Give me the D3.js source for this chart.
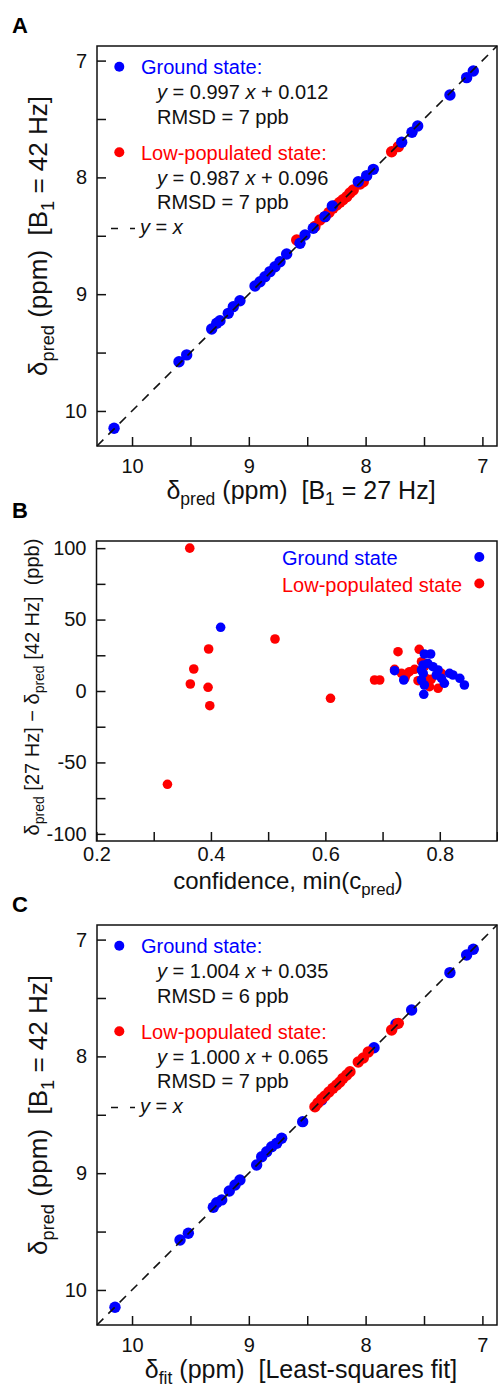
<!DOCTYPE html>
<html>
<head>
<meta charset="utf-8">
<title>delta pred comparison</title>
<style>
  body { margin: 0; background: #fff; }
  svg text { font-family: "Liberation Sans", Arial, Helvetica, sans-serif; white-space: pre; }
</style>
<script src="https://d3js.org/d3.v7.min.js"></script>
</head>
<body>
<script>
// panel A : delta_pred at B1 = 27 Hz (x) against B1 = 42 Hz (y), ppm
var gsA27 = [7.078, 7.135, 7.278, 7.554, 7.603, 7.691, 7.934, 7.991, 8.063, 8.285, 8.348, 8.448, 8.519, 8.562, 8.676,
             8.733, 8.776, 8.819, 8.862, 8.904, 8.947, 9.076, 9.133, 9.176, 9.247, 9.275, 9.318, 9.532, 9.598, 10.154];
var gsA42 = [7.089, 7.146, 7.295, 7.560, 7.614, 7.699, 7.931, 7.985, 8.037, 8.245, 8.336, 8.436, 8.493, 8.564, 8.656,
             8.722, 8.765, 8.807, 8.850, 8.893, 8.930, 9.056, 9.107, 9.164, 9.227, 9.249, 9.298, 9.520, 9.578, 10.148];
var lpA27 = [7.720, 7.777, 8.020, 8.048, 8.106, 8.134, 8.162, 8.194, 8.220, 8.248, 8.280, 8.314, 8.348, 8.391, 8.434, 8.590];
var lpA42 = [7.737, 7.780, 8.037, 8.057, 8.108, 8.134, 8.165, 8.191, 8.213, 8.236, 8.264, 8.300, 8.336, 8.365, 8.420, 8.536];
var fitA = [[0.997, 0.012], [0.987, 0.096]];
var rmsdA = [7, 7];

// panel B : confidence against difference (ppb)
var gsBconf = [0.417, 0.772, 0.773, 0.784, 0.721, 0.737, 0.771, 0.779, 0.788, 0.797, 0.768, 0.771, 0.794,
               0.803, 0.817, 0.823, 0.835, 0.843, 0.808, 0.768, 0.773];
var gsBdiff = [44.6, -2.3, 25.9, 25.9, 14.2, 7.7, 18.2, 19.4, 17.0, 14.7, 14.7, 12.4, 11.2,
               8.9, 12.4, 11.2, 8.9, 4.2, 5.4, 7.7, 4.2];
var lpBconf = [0.363, 0.512, 0.396, 0.370, 0.364, 0.395, 0.398, 0.609, 0.324, 0.727, 0.764, 0.686, 0.695, 0.721,
               0.733, 0.742, 0.747, 0.756, 0.768, 0.773, 0.762, 0.776, 0.785, 0.782, 0.797, 0.803, 0.739];
var lpBdiff = [100, 36.4, 29.4, 15.4, 4.9, 2.6, -10.3, -5.1, -65.3, 27.5, 29.2, 7.7, 7.7, 15.2,
               12.4, 11.9, 13.5, 15.2, 20.5, 17.0, 7.2, 8.9, 8.2, 3.0, 1.9, 12.4, 8.9];

// panel C : least-squares fit (x) against delta_pred at 42 Hz (y), ppm
var gsCfit = [7.078, 7.135, 7.278, 7.606, 7.740, 7.928, 8.376, 8.539, 8.719, 8.761, 8.804, 8.847, 8.890, 8.933,
              9.076, 9.118, 9.167, 9.232, 9.275, 9.304, 9.518, 9.589, 10.146];
var gsCpred = [7.083, 7.132, 7.283, 7.603, 7.723, 7.926, 8.373, 8.559, 8.701, 8.744, 8.773, 8.816, 8.859, 8.930,
               9.058, 9.101, 9.152, 9.229, 9.253, 9.292, 9.515, 9.572, 10.148];
var lpCfit = [7.720, 7.777, 7.977, 8.020, 8.063, 8.134, 8.162, 8.194, 8.220, 8.248, 8.280, 8.314, 8.348, 8.376, 8.408, 8.434];
var lpCpred = [7.717, 7.774, 7.962, 8.014, 8.048, 8.131, 8.159, 8.188, 8.219, 8.245, 8.273, 8.305, 8.339, 8.365, 8.399, 8.431];
var fitC = [[1.004, 0.035], [1.000, 0.065]];
var rmsdC = [6, 7];

var ppmTicks = [10, 9.5, 9, 8.5, 8, 7.5, 7];
var confTicks = [0.2, 0.3, 0.4, 0.5, 0.6, 0.7, 0.8, 0.9];
var diffTicks = [-100, -75, -50, -25, 0, 25, 50, 75, 100];
var stateNames = ["Ground state", "Low-populated state"];
var blue = "#0000ff", red = "#ff0000", ink = "#111";

var svg = d3.select("body").append("svg").attr("width", 498).attr("height", 1389);

// text with subscripts ("s") and italics ("i")
function rich(g, parts, size) {
  var t = g.append("text").attr("font-size", size).attr("fill", ink);
  var shift = 0;
  parts.forEach(function (p) {
    var s = t.append("tspan").text(p[0]);
    var want = p[1] === "s" ? size * 0.25 : 0;
    if (want !== shift) { s.attr("dy", want - shift); shift = want; }
    if (p[1] === "s") s.attr("font-size", size * 0.7);
    if (p[1] === "i") s.attr("font-style", "italic");
  });
  return t;
}

function styleAxis(a, size) {
  a.attr("font-family", null).attr("font-size", null);
  a.select(".domain").remove();
  a.selectAll(".tick line").attr("stroke", ink).attr("stroke-width", 1.5);
  a.selectAll(".tick text").attr("font-size", size).attr("fill", ink);
}

function dots(g, xs, ys, x, y, r, col) {
  g.selectAll(null).data(xs).enter().append("circle")
   .attr("cx", function (d) { return x(d); })
   .attr("cy", function (d, i) { return y(ys[i]); })
   .attr("r", r).attr("fill", col);
}

function intLabel(d) { return d % 1 === 0 ? d : ""; }

// square ppm panel (A and C)
function ppmPanel(top, letter, sets, fits, rmsds, xlabel, xlabelY) {
  var g = svg.append("g").attr("transform", "translate(97," + top + ")");
  var x = d3.scaleLinear().domain([10.3, 6.875]).range([0, 400]);
  var y = d3.scaleLinear().domain([6.875, 10.3]).range([0, 400]);

  var ax = g.append("g").attr("transform", "translate(0,400)")
    .call(d3.axisBottom(x).tickValues(ppmTicks).tickSize(-9).tickSizeOuter(0).tickPadding(13).tickFormat(intLabel));
  styleAxis(ax, 20);
  var ay = g.append("g")
    .call(d3.axisLeft(y).tickValues(ppmTicks).tickSize(-9).tickSizeOuter(0).tickPadding(10).tickFormat(intLabel));
  styleAxis(ay, 20);

  sets.forEach(function (s) { dots(g, s[0], s[1], x, y, 5.7, s[2]); });

  g.append("line")
   .attr("x1", x(10.3)).attr("y1", y(10.3)).attr("x2", x(6.875)).attr("y2", y(6.875))
   .attr("stroke", ink).attr("stroke-width", 1.6).attr("stroke-dasharray", "9,7");

  g.append("rect").attr("width", 400).attr("height", 400)
   .attr("fill", "none").attr("stroke", ink).attr("stroke-width", 1.5);

  // legend
  var lg = svg.append("g").attr("transform", "translate(0," + top + ")");
  var rows = [[20.7, 28, 52.5, 77.5], [106.3, 113.5, 138.5, 162.5]];
  [blue, red].forEach(function (col, k) {
    lg.append("circle").attr("cx", 119.3).attr("cy", rows[k][0]).attr("r", 5).attr("fill", col);
    lg.append("text").attr("x", 141).attr("y", rows[k][1]).attr("font-size", 20)
      .attr("fill", col).text(stateNames[k] + ":");
    rich(lg, [["y", "i"], [" = " + fits[k][0].toFixed(3) + " "], ["x", "i"], [" + " + fits[k][1].toFixed(3)]], 20)
      .attr("x", 157).attr("y", rows[k][2]);
    lg.append("text").attr("x", 157).attr("y", rows[k][3]).attr("font-size", 20).attr("fill", ink)
      .text("RMSD = " + rmsds[k] + " ppb");
  });
  lg.append("line").attr("x1", 111).attr("x2", 135).attr("y1", 182.5).attr("y2", 182.5)
    .attr("stroke", ink).attr("stroke-width", 1.6).attr("stroke-dasharray", "7,12");
  rich(lg, [["y", "i"], [" = "], ["x", "i"]], 20).attr("x", 140).attr("y", 187.5);

  svg.append("text").attr("x", 12).attr("y", top - 13).attr("font-size", 22)
     .attr("font-weight", "bold").attr("fill", "#000").text(letter);

  rich(svg, [["δ"], ["pred", "s"], [" (ppm)  [B"], ["1", "s"], [" = 42 Hz]"]], 26)
    .attr("text-anchor", "middle")
    .attr("transform", "translate(47," + (top + 190) + ") rotate(-90)");
  rich(svg, xlabel, 25).attr("text-anchor", "middle").attr("x", 301).attr("y", top + xlabelY);
}

ppmPanel(46, "A", [[lpA27, lpA42, red], [gsA27, gsA42, blue]], fitA, rmsdA,
  [["δ"], ["pred", "s"], [" (ppm)  [B"], ["1", "s"], [" = 27 Hz]"]], 453);

ppmPanel(925, "C", [[gsCfit, gsCpred, blue], [lpCfit, lpCpred, red]], fitC, rmsdC,
  [["δ"], ["fit", "s"], [" (ppm)  [Least-squares fit]"]], 453);

// panel B
(function () {
  var top = 541;
  var g = svg.append("g").attr("transform", "translate(96.5," + top + ")");
  var x = d3.scaleLinear().domain([0.2, 0.9]).range([0, 400.5]);
  var y = d3.scaleLinear().domain([-105, 105]).range([300, 0]);

  var ax = g.append("g").attr("transform", "translate(0,300)")
    .call(d3.axisBottom(x).tickValues(confTicks).tickSize(-9).tickSizeOuter(0).tickPadding(6)
      .tickFormat(function (d) { return [0.2, 0.4, 0.6, 0.8].indexOf(d) >= 0 ? d.toFixed(1) : ""; }));
  styleAxis(ax, 20);
  var ay = g.append("g")
    .call(d3.axisLeft(y).tickValues(diffTicks).tickSize(-9).tickSizeOuter(0).tickPadding(10)
      .tickFormat(function (d) { return d % 50 === 0 ? String(d) : ""; }));
  styleAxis(ay, 20);

  dots(g, lpBconf, lpBdiff, x, y, 4.8, red);
  dots(g, gsBconf, gsBdiff, x, y, 4.8, blue);

  g.append("rect").attr("width", 400.5).attr("height", 300)
   .attr("fill", "none").attr("stroke", ink).attr("stroke-width", 1.5);

  [[blue, 557, 565], [red, 583.5, 591.5]].forEach(function (r, k) {
    svg.append("text").attr("x", 282).attr("y", r[2]).attr("font-size", 20).attr("fill", r[0]).text(stateNames[k]);
    svg.append("circle").attr("cx", 479.3).attr("cy", r[1]).attr("r", 5).attr("fill", r[0]);
  });

  svg.append("text").attr("x", 12).attr("y", 518).attr("font-size", 22)
     .attr("font-weight", "bold").attr("fill", "#000").text("B");

  rich(svg, [["δ"], ["pred", "s"], [" [27 Hz] − δ"], ["pred", "s"], [" [42 Hz]  (ppb)"]], 20)
    .attr("text-anchor", "middle")
    .attr("transform", "translate(39,687) rotate(-90)");
  rich(svg, [["confidence, min(c"], ["pred", "s"], [")"]], 24)
    .attr("text-anchor", "middle").attr("x", 288).attr("y", 889);
})();
</script>
</body>
</html>
